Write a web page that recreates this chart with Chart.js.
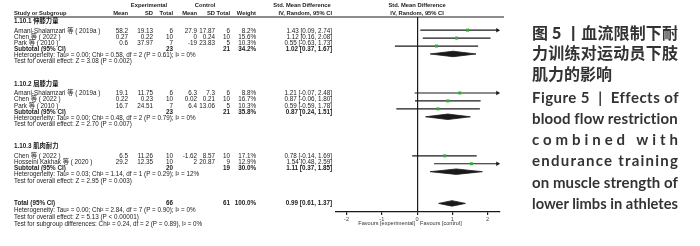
<!DOCTYPE html>
<html>
<head>
<meta charset="utf-8">
<script src="https://cdn.jsdelivr.net/npm/chart.js@4.4.1/dist/chart.umd.min.js"></script>
<style>
    html, body { margin: 0; padding: 0; background: #fff; }
    #wrap { position: relative; width: 700px; height: 246px; overflow: hidden; }
    #forest { position: absolute; left: 0; top: 0; }
    .cap { position: absolute; left: 532px; height: 20px; line-height: 20px; white-space: pre; font-weight: bold; color: #333; transform-origin: left center; }
    .zh { font-family: "Noto Sans CJK SC", sans-serif; font-size: 16px; }
    .en { font-family: Lato, "Liberation Sans", sans-serif; font-size: 15px; }
</style>
</head>
<body>
<div id="wrap">
    <canvas id="forest" width="700" height="246"></canvas>
    <div id="caption"></div>
</div>
<script>
// Forest plot values
const groupTitles = ['1.10.1 伸膝力量', '1.10.2 屈膝力量', '1.10.3 肌肉耐力'];
const studyNames = [
    'Amani-Shalamzari 等 ( 2019a )', 'Chen 等 ( 2022 )', 'Park 等 ( 2010 )',
    'Amani-Shalamzari 等 ( 2019a )', 'Chen 等 ( 2022 )', 'Park 等 ( 2010 )',
    'Chen 等 ( 2022 )', 'Hosseini Kakhak 等 ( 2020 )'
];
const studyGroup = [0, 0, 0, 1, 1, 1, 2, 2];
const expMean = [58.2, 0.27, 0.6, 19.1, 0.22, 16.7, 6.5, 29.2];
const expSD = [19.13, 0.22, 37.97, 11.75, 0.23, 24.51, 11.26, 12.35];
const expTotal = [6, 10, 7, 6, 10, 7, 10, 10];
const ctlMean = [27.9, 0, -19, 6.3, 0.02, 6.4, -1.62, 2];
const ctlSD = [17.87, 0.24, 23.83, 7.3, 0.21, 13.06, 8.57, 20.87];
const ctlTotal = [6, 10, 5, 6, 10, 5, 10, 9];
const weights = [8.2, 15.6, 10.3, 8.8, 16.7, 10.3, 17.1, 12.9];
const smd = [1.43, 1.12, 0.55, 1.21, 0.87, 0.59, 0.78, 1.54];
const ciLow = [0.09, 0.16, -0.63, -0.07, -0.06, -0.59, -0.14, 0.48];
const ciHigh = [2.74, 2.08, 1.73, 2.48, 1.80, 1.78, 1.69, 2.59];

const subExpTotal = [23, 23, 20];
const subCtlTotal = [21, 21, 19];
const subWeight = [34.2, 35.8, 30.0];
const subSmd = [1.02, 0.87, 1.11];
const subLow = [0.37, 0.24, 0.37];
const subHigh = [1.67, 1.51, 1.85];
const subHeterogeneity = [
    'Heterogeneity: Tau² = 0.00; Chi² = 0.58, df = 2 (P = 0.61); I² = 0%',
    'Heterogeneity: Tau² = 0.00; Chi² = 0.48, df = 2 (P = 0.79); I² = 0%',
    'Heterogeneity: Tau² = 0.03; Chi² = 1.14, df = 1 (P = 0.29); I² = 12%'
];
const subOverall = [
    'Test for overall effect: Z = 3.08 (P = 0.002)',
    'Test for overall effect: Z = 2.70 (P = 0.007)',
    'Test for overall effect: Z = 2.95 (P = 0.003)'
];

const totalExp = 66;
const totalCtl = 61;
const totalWeight = 100.0;
const totalSmd = 0.99;
const totalLow = 0.61;
const totalHigh = 1.37;
const totalNotes = [
    'Heterogeneity: Tau² = 0.00; Chi² = 2.84, df = 7 (P = 0.90); I² = 0%',
    'Test for overall effect: Z = 5.13 (P < 0.00001)',
    'Test for subgroup differences: Chi² = 0.24, df = 2 (P = 0.89), I² = 0%'
];

const xTicks = [-2, -1, 0, 1, 2];
const favours = ['Favours [experimental]', 'Favours [control]'];

const captionZh = ['图 5 丨血流限制下耐', '力训练对运动员下肢', '肌力的影响'];
const captionEn = ['Figure 5  |  Effects of', 'blood flow restriction', 'combined with', 'endurance training', 'on muscle strength of', 'lower limbs in athletes'];

// layout
const X_MIN = -2.3;
const X_MAX = 2.35;
const GROUP_GAP = 3.7;
const HEADING_GAP = 1.6;
const PLOT_STEP = 1.3;
const DIAMOND_H = 0.45;
const BODY_FONT = '"Liberation Sans", "Noto Sans CJK SC", sans-serif';
const INK = '#1a1a1a';

const rows = [];
let cursor = 0;
groupTitles.forEach((title, g) => {
    if (g > 0) cursor += GROUP_GAP;
    rows.push({ kind: 'heading', row: cursor, g });
    cursor += HEADING_GAP;
    const members = studyGroup.map((sg, i) => sg === g ? i : -1).filter(i => i >= 0);
    const plotStart = cursor - 0.1;
    members.forEach((i, k) => {
        rows.push({ kind: 'study', row: cursor, plotRow: plotStart + k * PLOT_STEP, i });
        cursor += 1;
    });
    rows.push({ kind: 'subtotal', row: cursor, plotRow: plotStart + members.length * PLOT_STEP, g });
    cursor += 1;
    rows.push({ kind: 'note', row: cursor, text: subHeterogeneity[g] });
    cursor += 1;
    rows.push({ kind: 'note', row: cursor, text: subOverall[g] });
});
cursor += GROUP_GAP;
rows.push({ kind: 'total', row: cursor, plotRow: cursor });
totalNotes.forEach(text => {
    cursor += 1.15;
    rows.push({ kind: 'note', row: cursor, text });
});

const ciText = (e, l, h) => `${e.toFixed(2)} [${l.toFixed(2)}, ${h.toFixed(2)}]`;
const pct = v => `${v.toFixed(1)}%`;

function diamond(est, lo, hi, r) {
    return [
        { x: lo, y: r }, { x: est, y: r - DIAMOND_H }, { x: hi, y: r },
        { x: est, y: r + DIAMOND_H }, { x: lo, y: r }
    ];
}

const datasets = [];
const studyRows = rows.filter(r => r.kind === 'study');

datasets.push({
    label: 'effects',
    order: 0,
    showLine: false,
    data: studyRows.map(r => ({ x: smd[r.i], y: r.plotRow })),
    pointStyle: 'rect',
    pointRadius: 2.1,
    pointBackgroundColor: '#2fae2f',
    pointBorderColor: '#2fae2f',
    pointBorderWidth: 0
});

studyRows.forEach(r => {
    const i = r.i;
    const clipped = ciHigh[i] > X_MAX;
    datasets.push({
        label: 'ci' + i,
        order: 1,
        data: [{ x: ciLow[i], y: r.plotRow }, { x: clipped ? X_MAX - 0.07 : ciHigh[i], y: r.plotRow }],
        borderColor: INK,
        borderWidth: 1.2,
        pointStyle: 'triangle',
        pointRotation: 90,
        pointRadius: c => (clipped && c.dataIndex === 1) ? 2.6 : 0,
        pointBackgroundColor: INK,
        pointBorderColor: INK,
        pointBorderWidth: 0,
        clip: false
    });
});

rows.filter(r => r.kind === 'subtotal').forEach(r => {
    datasets.push({
        label: 'sub' + r.g,
        order: 1,
        data: diamond(subSmd[r.g], subLow[r.g], subHigh[r.g], r.plotRow),
        borderColor: INK,
        backgroundColor: INK,
        borderWidth: 0.8,
        fill: 'shape',
        pointRadius: 0
    });
});

const totalRow = rows.find(r => r.kind === 'total');
datasets.push({
    label: 'total',
    order: 1,
    data: diamond(totalSmd, totalLow, totalHigh, totalRow.plotRow),
    borderColor: INK,
    backgroundColor: INK,
    borderWidth: 0.8,
    fill: 'shape',
    pointRadius: 0
});

// table columns (right edges)
const col = { name: 14, expMean: 128, expSD: 153, expTotal: 173, ctlMean: 197, ctlSD: 215, ctlTotal: 230, weight: 256, ci: 332 };

const tablePlugin = {
    id: 'table',
    afterDraw(chart) {
        const { ctx, chartArea, scales: { x, y } } = chart;
        const zero = x.getPixelForValue(0);
        ctx.save();
        ctx.fillStyle = INK;
        ctx.textBaseline = 'middle';
        const put = (text, px, row, align, bold, size) => {
            ctx.font = `${bold ? 'bold ' : ''}${size || 6.3}px ${BODY_FONT}`;
            ctx.textAlign = align;
            ctx.fillText(String(text), px, y.getPixelForValue(row));
        };

        // header
        const h1 = -2.6, h2 = -1.3;
        put('Experimental', 149, h1, 'center', true, 5.8);
        put('Control', 205, h1, 'center', true, 5.8);
        put('Std. Mean Difference', 302, h1, 'center', true, 5.8);
        put('Std. Mean Difference', zero, h1, 'center', true, 5.8);
        put('Study or Subgroup', col.name, h2, 'left', true, 5.8);
        put('Mean', col.expMean, h2, 'right', true, 5.8);
        put('SD', col.expSD, h2, 'right', true, 5.8);
        put('Total', col.expTotal, h2, 'right', true, 5.8);
        put('Mean', col.ctlMean, h2, 'right', true, 5.8);
        put('SD', col.ctlSD, h2, 'right', true, 5.8);
        put('Total', col.ctlTotal, h2, 'right', true, 5.8);
        put('Weight', col.weight, h2, 'right', true, 5.8);
        put('IV, Random, 95% CI', col.ci, h2, 'right', true, 5.8);
        put('IV, Random, 95% CI', zero, h2, 'center', true, 5.8);

        ctx.strokeStyle = INK;
        ctx.lineWidth = 1.2;
        ctx.beginPath();
        ctx.moveTo(col.name, chartArea.top);
        ctx.lineTo(chartArea.right + 4, chartArea.top);
        ctx.stroke();

        rows.forEach(r => {
            if (r.kind === 'heading') {
                put(groupTitles[r.g], col.name, r.row, 'left', true);
            } else if (r.kind === 'study') {
                const i = r.i;
                put(studyNames[i], col.name, r.row, 'left');
                put(expMean[i], col.expMean, r.row, 'right');
                put(expSD[i], col.expSD, r.row, 'right');
                put(expTotal[i], col.expTotal, r.row, 'right');
                put(ctlMean[i], col.ctlMean, r.row, 'right');
                put(ctlSD[i], col.ctlSD, r.row, 'right');
                put(ctlTotal[i], col.ctlTotal, r.row, 'right');
                put(pct(weights[i]), col.weight, r.row, 'right');
                put(ciText(smd[i], ciLow[i], ciHigh[i]), col.ci, r.row, 'right');
            } else if (r.kind === 'subtotal') {
                const g = r.g;
                put('Subtotal (95% CI)', col.name, r.row, 'left', true);
                put(subExpTotal[g], col.expTotal, r.row, 'right', true);
                put(subCtlTotal[g], col.ctlTotal, r.row, 'right', true);
                put(pct(subWeight[g]), col.weight, r.row, 'right', true);
                put(ciText(subSmd[g], subLow[g], subHigh[g]), col.ci, r.row, 'right', true);
            } else if (r.kind === 'total') {
                put('Total (95% CI)', col.name, r.row, 'left', true);
                put(totalExp, col.expTotal, r.row, 'right', true);
                put(totalCtl, col.ctlTotal, r.row, 'right', true);
                put(pct(totalWeight), col.weight, r.row, 'right', true);
                put(ciText(totalSmd, totalLow, totalHigh), col.ci, r.row, 'right', true);
            } else {
                put(r.text, col.name, r.row, 'left');
            }
        });

        // favours labels under the axis
        ctx.font = `5.6px ${BODY_FONT}`;
        ctx.fillStyle = '#333';
        ctx.textAlign = 'right';
        ctx.fillText(favours[0], zero - 2, chartArea.bottom + 11);
        ctx.textAlign = 'left';
        ctx.fillText(favours[1], zero + 3, chartArea.bottom + 11);
        ctx.restore();
    }
};

new Chart(document.getElementById('forest'), {
    type: 'line',
    data: { datasets },
    options: {
        responsive: false,
        animation: false,
        layout: { padding: { left: 336, right: 200, top: 17, bottom: 22 } },
        plugins: { legend: { display: false }, tooltip: { enabled: false } },
        elements: { line: { tension: 0 } },
        scales: {
            x: {
                type: 'linear',
                min: X_MIN,
                max: X_MAX,
                afterBuildTicks: s => { s.ticks = xTicks.map(v => ({ value: v })); },
                afterFit: s => { s.height = 12; },
                border: { display: true, color: INK, width: 1.2 },
                grid: {
                    color: c => (c.tick && c.tick.value === 0) ? INK : 'rgba(0,0,0,0)',
                    lineWidth: 1.2,
                    tickLength: 3,
                    tickColor: INK
                },
                ticks: {
                    font: { size: 5.6, family: BODY_FONT },
                    color: '#444',
                    padding: 1,
                    maxRotation: 0,
                    autoSkip: false
                }
            },
            y: { type: 'linear', display: false, reverse: true, min: -0.66, max: 31.31 }
        }
    },
    plugins: [tablePlugin]
});

// caption
const CAP_WIDTH = 146;
const capCenters = { zh: [32, 52, 73], en: [97, 118, 139, 160, 182, 203] };
const caption = document.getElementById('caption');

function addCaptionLines(lines, cls, centers) {
    lines.forEach((text, k) => {
        const div = document.createElement('div');
        div.className = 'cap ' + cls;
        div.textContent = text;
        div.style.top = (centers[k] - 10) + 'px';
        div.dataset.last = k === lines.length - 1 ? '1' : '0';
        caption.appendChild(div);
    });
}
addCaptionLines(captionZh, 'zh', capCenters.zh);
addCaptionLines(captionEn, 'en', capCenters.en);

function fitCaption() {
    caption.querySelectorAll('.cap').forEach(div => {
        div.style.letterSpacing = '0px';
        div.style.transform = 'none';
        const w = div.getBoundingClientRect().width;
        if (w > CAP_WIDTH) {
            div.style.transform = `scaleX(${CAP_WIDTH / w})`;
        } else if (div.dataset.last === '0') {
            const n = div.textContent.length;
            div.style.letterSpacing = ((CAP_WIDTH - w) / (n - 1)) + 'px';
        }
    });
}
fitCaption();
if (document.fonts) document.fonts.ready.then(fitCaption);
</script>
</body>
</html>
